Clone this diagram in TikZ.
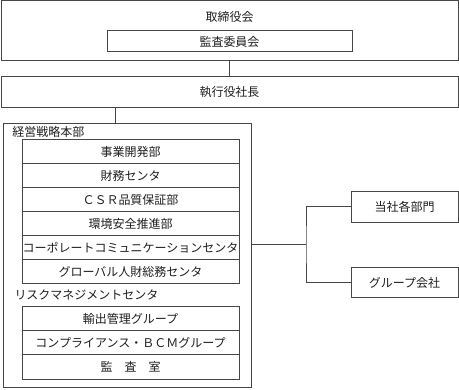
\documentclass[tikz,border=0pt]{standalone}
\usepackage{fontspec}
\setmainfont{Noto Sans CJK JP}
\definecolor{lc}{RGB}{70,70,70}
\definecolor{tc}{RGB}{30,30,30}
\begin{document}
\begin{tikzpicture}[x=1pt,y=-1pt,line width=1pt,
  box/.style={draw=lc,inner sep=0pt,text=tc,font=\fontsize{12}{14}\selectfont},
  lbl/.style={inner sep=0pt,text=tc,font=\fontsize{12}{14}\selectfont},
  conn/.style={draw=lc,line width=1pt}]
\useasboundingbox (0,0) rectangle (459,390);
% board
\node[box,minimum width=457pt,minimum height=60pt] (board) at (229.5,30.5) {};
\node[lbl] (boardlbl) at (229.5,17) {取締役会};
\node[box,minimum width=245pt,minimum height=21pt] (audit) at (229.5,41.5) {監査委員会};
% exec
\node[box,minimum width=457pt,minimum height=31pt] (exec) at (229.5,91.75) {執行役社長};
\draw[conn] (board.south) -- (exec.north);
% HQ
\node[box,minimum width=248pt,minimum height=264pt] (hq) at (127,256) {};
\node[lbl,anchor=west] (hqlbl) at (12,132) {経営戦略本部};
\coordinate (c1) at (115,0);
\draw[conn] (exec.south -| c1) -- (hq.north -| c1);
% group 1
\node[box,minimum width=217pt,minimum height=24pt] (g1) at (130.5,152) {事業開発部};
\node[box,minimum width=217pt,minimum height=24pt] (g2) at (130.5,176) {財務センタ};
\node[box,minimum width=217pt,minimum height=24pt] (g3) at (130.5,200) {ＣＳＲ品質保証部};
\node[box,minimum width=217pt,minimum height=24pt] (g4) at (130.5,224) {環境安全推進部};
\node[box,minimum width=217pt,minimum height=24pt] (g5) at (130.5,248) {コーポレートコミュニケーションセンタ};
\node[box,minimum width=217pt,minimum height=24pt] (g6) at (130.5,272) {グローバル人財総務センタ};
% risk
\node[lbl,anchor=west] (risklbl) at (14,295) {リスクマネジメントセンタ};
\node[box,minimum width=217pt,minimum height=24.2pt] (r1) at (130.5,318.6) {輸出管理グループ};
\node[box,minimum width=217pt,minimum height=24.2pt] (r2) at (130.5,342.8) {コンプライアンス・ＢＣＭグループ};
\node[box,minimum width=217pt,minimum height=24.2pt] (r3) at (130.5,367) {監　査　室};
% right
\node[box,minimum width=107pt,minimum height=30.5pt] (dept) at (404.5,207) {当社各部門};
\node[box,minimum width=107pt,minimum height=30.5pt] (grp) at (404.5,282.75) {グループ会社};
\coordinate (j) at (306,245);
\draw[conn] (j -| hq.east) -- (j);
\draw[conn] (dept.west) -| (j) |- (grp.west);
\end{tikzpicture}
\end{document}
